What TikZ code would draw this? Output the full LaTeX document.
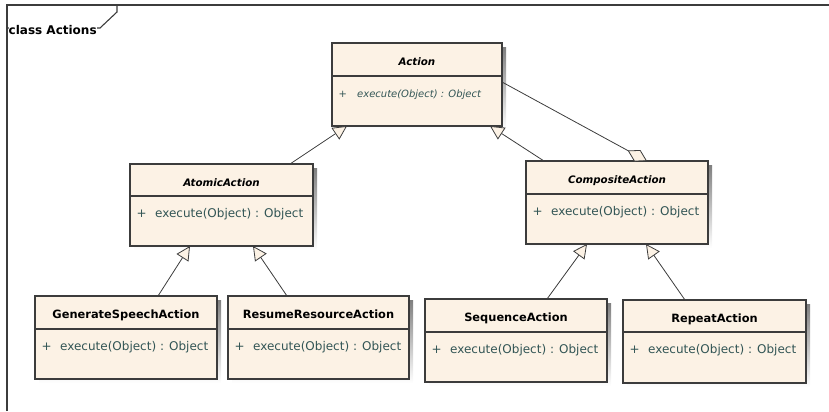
\documentclass[tikz,border=0pt]{standalone}
\usepackage{fontspec}
\setmainfont{DejaVu Sans}
\usetikzlibrary{arrows.meta,calc}
\definecolor{cream}{RGB}{252,242,229}
\definecolor{meth}{RGB}{50,85,85}
\definecolor{edge}{RGB}{60,60,60}
\definecolor{shade}{RGB}{195,195,195}
\newcommand{\umlcls}[9]{%
  \fill[shade] (#2+4,#3+4) rectangle (#4+4,#5+4);
  \node[clsbox, minimum width={(#4-#2)*1bp}, minimum height={(#5-#3)*1bp}] (#1) at ({(#2+#4)/2},{(#3+#5)/2}) {};
  \draw[boxline] (#2,#6) -- (#4,#6);
  \node[#7, anchor=base] (#1-title) at ({(#2+#4)/2},{(#3+#6)/2+6}) {#8};
  \node[#9, anchor=base west] (#1-vis) at (#2+6.5,#6+21.5) {+};
  \node[#9, anchor=base west] (#1-op) at (#2+25,#6+21.5) {execute(Object) : Object};
}
\begin{document}
\begin{tikzpicture}[x=1bp,y=-1bp,
  clsbox/.style={draw=edge, fill=cream, line width=1.1bp, inner sep=0, outer sep=0},
  boxline/.style={draw=edge, line width=1.1bp},
  ttl/.style={font=\bfseries\fontsize{11.4bp}{13bp}\selectfont, inner sep=0},
  ttli/.style={font=\bfseries\itshape\fontsize{10.3bp}{12bp}\selectfont, inner sep=0},
  mth/.style={text=meth, font=\fontsize{12bp}{14bp}\selectfont, inner sep=0},
  mthi/.style={text=meth, font=\itshape\fontsize{10bp}{12bp}\selectfont, inner sep=0},
  gen/.style={draw=edge, line width=0.8bp, -{Triangle[length=14bp, width=14bp, fill=cream, line width=0.8bp]}},
  agg/.style={draw=edge, line width=0.8bp, -{Diamond[length=22bp, width=13bp, fill=cream, line width=0.8bp]}},
  frame/.style={draw=edge, line width=1.1bp}]
\useasboundingbox (0,0) rectangle (829,411);
% frame
\draw[frame] (7,411) -- (7,5) -- (829,5);
\draw[frame] (7,28) -- (100,28) -- (117,12) -- (117,5);
\node[anchor=base west, inner sep=0, fill=white, font=\bfseries\fontsize{12bp}{14bp}\selectfont] (framelabel) at (8.5,34) {class Actions};
% classes
\umlcls{action}{332}{43}{502}{126}{76}{ttli}{Action}{mthi}
\umlcls{atomic}{130}{164}{313}{246}{196}{ttli}{AtomicAction}{mth}
\umlcls{composite}{526}{161}{708}{244}{194}{ttli}{CompositeAction}{mth}
\umlcls{gensp}{35}{296}{217}{379}{329}{ttl}{GenerateSpeechAction}{mth}
\umlcls{resume}{228}{296}{409}{379}{329}{ttl}{ResumeResourceAction}{mth}
\umlcls{sequence}{425}{299}{607}{382}{332}{ttl}{SequenceAction}{mth}
\umlcls{rep}{623}{300}{806}{383}{332}{ttl}{RepeatAction}{mth}
% connectors
\draw[gen] ([xshift=160bp]atomic.north west) -- ([xshift=15bp]action.south west);
\draw[gen] ([xshift=18bp]composite.north west) -- ([xshift=158bp]action.south west);
\draw[agg] ([yshift=-39bp]action.north east) -- ([xshift=121bp]composite.north west);
\draw[gen] ([xshift=123bp]gensp.north west) -- ([xshift=60bp]atomic.south west);
\draw[gen] ([xshift=59bp]resume.north west) -- ([xshift=123bp]atomic.south west);
\draw[gen] ([xshift=122bp]sequence.north west) -- ([xshift=61bp]composite.south west);
\draw[gen] ([xshift=62bp]rep.north west) -- ([xshift=120bp]composite.south west);
\end{tikzpicture}
\end{document}
